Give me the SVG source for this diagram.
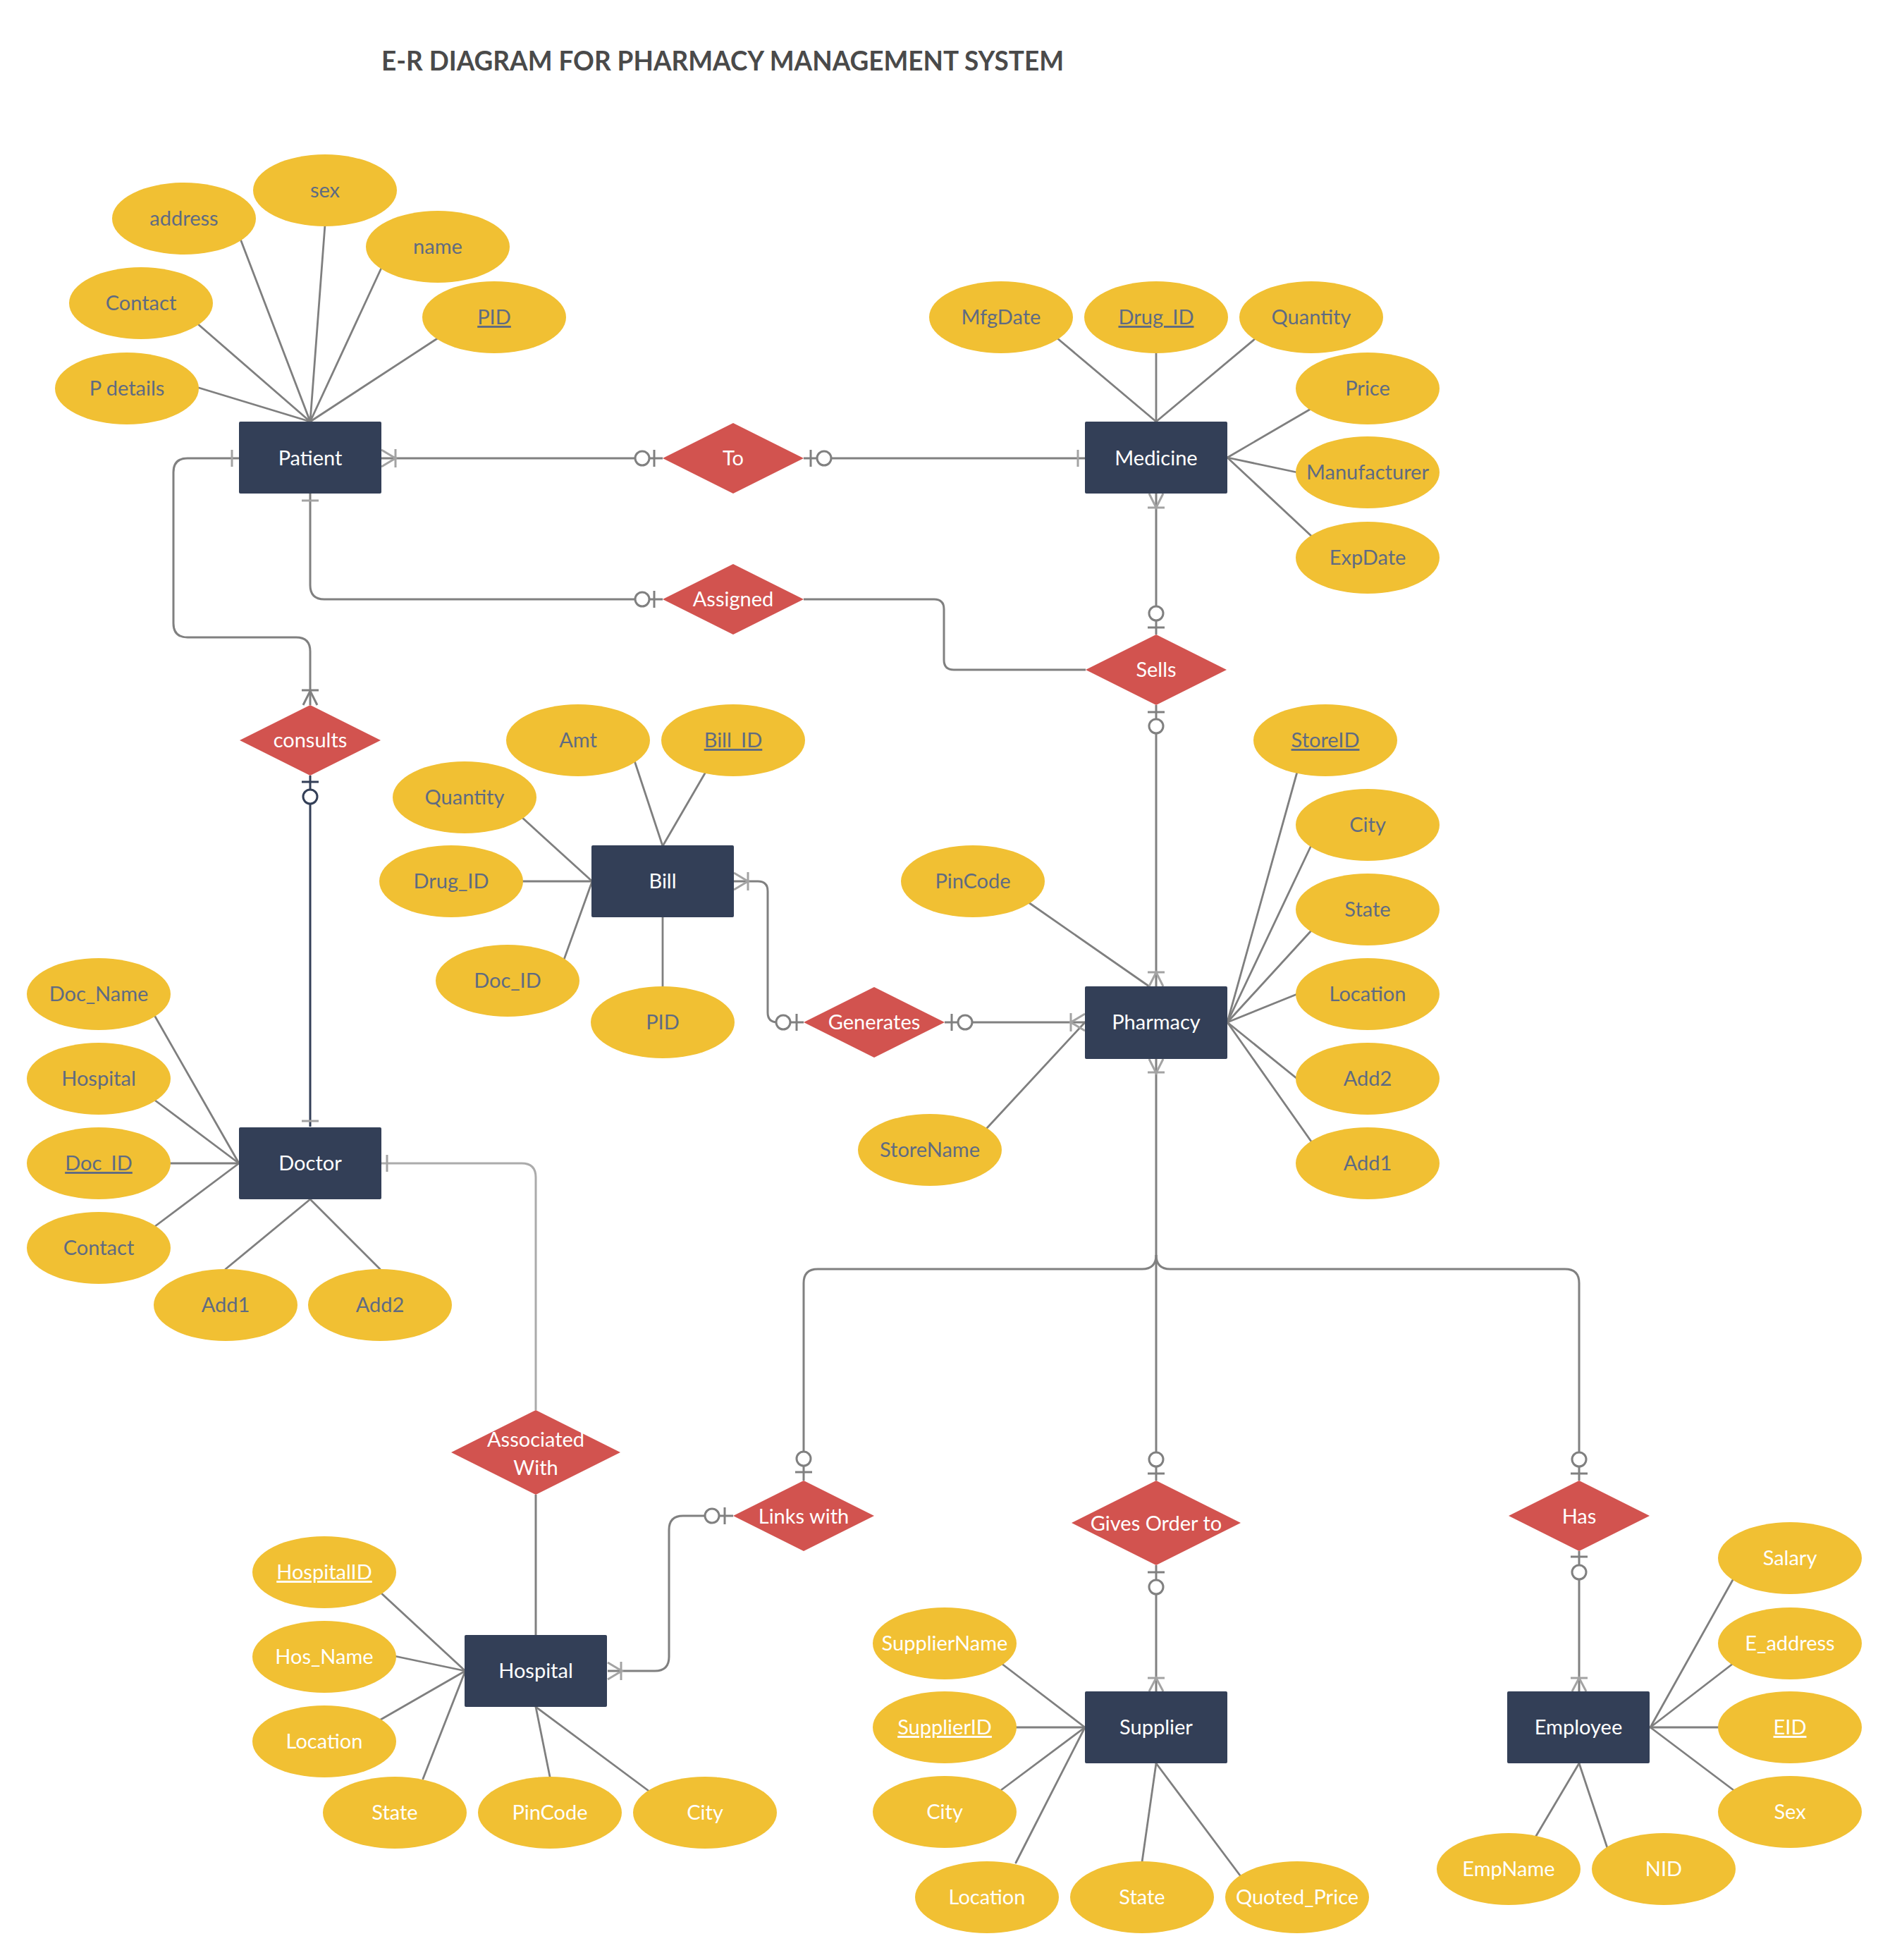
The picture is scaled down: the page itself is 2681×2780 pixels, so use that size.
<svg xmlns="http://www.w3.org/2000/svg" width="2681" height="2780" viewBox="0 0 2681 2780">
<style>
.ent{fill:#333F57}
.rel{fill:#D2534F}
.att{fill:#F1C033}
text{font-family:Lato,"Open Sans","Liberation Sans",sans-serif;font-size:29px;text-anchor:middle}
.ta{fill:#5F6B82}
.tw{fill:#FFFFFF}
.u{text-decoration:underline}
.al{stroke:#7F7F7F;stroke-width:2.8;fill:none;stroke-linecap:round}
.cl{stroke:#808080;stroke-width:3;fill:none}
.lg{stroke:#ABABAB;stroke-width:3;fill:none}
.nv{stroke:#333F57;stroke-width:3;fill:none}
.mk{stroke:#808080;stroke-width:3;fill:none}
.mkl{stroke:#A3A3A3;stroke-width:3;fill:none}
.ci{stroke:#808080;stroke-width:3;fill:#FFFFFF}
.cin{stroke:#333F57;stroke-width:3;fill:#FFFFFF}
.title{font-size:38px;font-weight:bold;fill:#4A4A4A;text-anchor:start}
</style>
<rect width="2681" height="2780" fill="#FFFFFF"/>
<text class="title" x="541" y="100" textLength="968" lengthAdjust="spacingAndGlyphs">E-R DIAGRAM FOR PHARMACY MANAGEMENT SYSTEM</text>

<g id="connectors">
<g id="attr-lines">
<line class="al" x1="282" y1="550" x2="440" y2="598"/>
<line class="al" x1="280" y1="459" x2="440" y2="598"/>
<line class="al" x1="341" y1="339" x2="440" y2="598"/>
<line class="al" x1="461" y1="319" x2="440" y2="598"/>
<line class="al" x1="541" y1="380" x2="440" y2="598"/>
<line class="al" x1="622" y1="479" x2="440" y2="598"/>

<line class="al" x1="1500" y1="480" x2="1640" y2="598"/>
<line class="al" x1="1640" y1="501" x2="1640" y2="598"/>
<line class="al" x1="1781" y1="480" x2="1640" y2="598"/>
<line class="al" x1="1861" y1="579" x2="1741" y2="649"/>
<line class="al" x1="1840" y1="670" x2="1741" y2="649"/>
<line class="al" x1="1861" y1="761" x2="1741" y2="649"/>

<line class="al" x1="900" y1="1079" x2="940" y2="1200"/>
<line class="al" x1="1001" y1="1095" x2="940" y2="1200"/>
<line class="al" x1="740" y1="1159" x2="840" y2="1250"/>
<line class="al" x1="741" y1="1250" x2="840" y2="1250"/>
<line class="al" x1="800" y1="1361" x2="840" y2="1250"/>
<line class="al" x1="940" y1="1400" x2="940" y2="1301"/>

<line class="al" x1="1840" y1="1095" x2="1741" y2="1450"/>
<line class="al" x1="1860" y1="1199" x2="1741" y2="1450"/>
<line class="al" x1="1860" y1="1320" x2="1741" y2="1450"/>
<line class="al" x1="1840" y1="1410" x2="1741" y2="1450"/>
<line class="al" x1="1840" y1="1530" x2="1741" y2="1450"/>
<line class="al" x1="1860" y1="1619" x2="1741" y2="1450"/>
<line class="al" x1="1459" y1="1280" x2="1630" y2="1399"/>
<line class="al" x1="1400" y1="1600" x2="1539" y2="1450"/>

<line class="al" x1="219" y1="1440" x2="339" y2="1650"/>
<line class="al" x1="219" y1="1560" x2="339" y2="1650"/>
<line class="al" x1="240" y1="1650" x2="339" y2="1650"/>
<line class="al" x1="219" y1="1740" x2="339" y2="1650"/>
<line class="al" x1="320" y1="1800" x2="440" y2="1701"/>
<line class="al" x1="539" y1="1800" x2="440" y2="1701"/>

<line class="al" x1="540" y1="2259" x2="660" y2="2370"/>
<line class="al" x1="560" y1="2349" x2="660" y2="2370"/>
<line class="al" x1="540" y1="2439" x2="660" y2="2370"/>
<line class="al" x1="600" y1="2523" x2="660" y2="2370"/>
<line class="al" x1="780" y1="2520" x2="760" y2="2421"/>
<line class="al" x1="920" y1="2540" x2="760" y2="2421"/>

<line class="al" x1="1420" y1="2359" x2="1539" y2="2450"/>
<line class="al" x1="1440" y1="2450" x2="1539" y2="2450"/>
<line class="al" x1="1420" y1="2539" x2="1539" y2="2450"/>
<line class="al" x1="1441" y1="2642" x2="1539" y2="2450"/>
<line class="al" x1="1620" y1="2641" x2="1640" y2="2501"/>
<line class="al" x1="1759" y1="2660" x2="1640" y2="2501"/>

<line class="al" x1="2459" y1="2239" x2="2341" y2="2450"/>
<line class="al" x1="2459" y1="2359" x2="2341" y2="2450"/>
<line class="al" x1="2440" y1="2450" x2="2341" y2="2450"/>
<line class="al" x1="2459" y1="2539" x2="2341" y2="2450"/>
<line class="al" x1="2179" y1="2604" x2="2240" y2="2501"/>
<line class="al" x1="2280" y1="2621" x2="2240" y2="2501"/>
</g>

<g id="rel-lines">
<path class="cl" d="M541,650 H940"/>
<path class="cl" d="M1140,650 H1539"/>
<path class="cl" d="M440,700 V830 Q440,850 460,850 H940"/>
<path class="cl" d="M1140,850 H1325 Q1339,850 1339,864 V936 Q1339,950 1353,950 H1540"/>
<path class="cl" d="M1640,700 V900"/>
<path class="cl" d="M1640,1000 V1399"/>
<path class="cl" d="M339,650 H266 Q246,650 246,670 V884 Q246,904 266,904 H420 Q440,904 440,924 V1000"/>
<path class="nv" d="M440,1100 V1598"/>
<path class="cl" d="M1041,1250 H1075 Q1089,1250 1089,1264 V1436 Q1089,1450 1103,1450 H1140"/>
<path class="cl" d="M1340,1450 H1539"/>
<path class="cl" d="M1640,1502 V2100"/>
<path class="cl" d="M1640,1780 Q1640,1800 1620,1800 H1160 Q1140,1800 1140,1820 V2100"/>
<path class="cl" d="M1640,1780 Q1640,1800 1660,1800 H2220 Q2240,1800 2240,1820 V2100"/>
<path class="cl" d="M1040,2150 H969 Q949,2150 949,2170 V2350 Q949,2370 929,2370 H862"/>
<path class="lg" d="M541,1650 H740 Q760,1650 760,1670 V2000"/>
<path class="cl" d="M760,2120 V2319"/>
<path class="cl" d="M1640,2220 V2399"/>
<path class="cl" d="M2240,2200 V2399"/>
</g>

<g id="markers">
<path class="mkl" d="M541,638 L561,650 L541,662 M561,637 V663"/>
<circle class="ci" cx="911" cy="650" r="10"/>
<path class="mk" d="M928,638 V662"/>
<path class="mk" d="M1150,638 V662"/>
<circle class="ci" cx="1169" cy="650" r="10"/>
<path class="mkl" d="M1529,638 V662"/>
<path class="mkl" d="M428,710 H452"/>
<circle class="ci" cx="911" cy="850" r="10"/>
<path class="mk" d="M928,838 V862"/>
<path class="mkl" d="M1630,700 L1640,720 L1650,700 M1628,720 H1652"/>
<circle class="ci" cx="1640" cy="870" r="10"/>
<path class="mk" d="M1628,890 H1652"/>
<path class="mk" d="M1628,1010 H1652"/>
<circle class="ci" cx="1640" cy="1030" r="10"/>
<path class="mkl" d="M1630,1399 L1640,1379 L1650,1399 M1628,1379 H1652"/>
<path class="mkl" d="M329,638 V662"/>
<path class="mk" d="M430,1000 L440,980 L450,1000 M428,979 H452"/>
<path class="nv" d="M428,1109 H452"/>
<circle class="cin" cx="440" cy="1130" r="10"/>
<path class="mkl" d="M428,1590 H452"/>
<path class="mkl" d="M1041,1238 L1061,1250 L1041,1262 M1061,1237 V1263"/>
<circle class="ci" cx="1111" cy="1450" r="10"/>
<path class="mk" d="M1130,1438 V1462"/>
<path class="mk" d="M1350,1438 V1462"/>
<circle class="ci" cx="1369" cy="1450" r="10"/>
<path class="mkl" d="M1539,1438 L1519,1450 L1539,1462 M1519,1437 V1463"/>
<path class="mkl" d="M1630,1502 L1640,1522 L1650,1502 M1628,1521 H1652"/>
<circle class="ci" cx="1140" cy="2069" r="10"/>
<path class="mk" d="M1128,2088 H1152"/>
<circle class="ci" cx="1640" cy="2070" r="10"/>
<path class="mk" d="M1628,2090 H1652"/>
<circle class="ci" cx="2240" cy="2070" r="10"/>
<path class="mk" d="M2228,2090 H2252"/>
<circle class="ci" cx="1010" cy="2150" r="10"/>
<path class="mk" d="M1028,2138 V2162"/>
<path class="mkl" d="M862,2358 L882,2370 L862,2382 M881,2357 V2383"/>
<path class="mkl" d="M549,1638 V1662"/>
<path class="mk" d="M1628,2230 H1652"/>
<circle class="ci" cx="1640" cy="2251" r="10"/>
<path class="mkl" d="M1630,2399 L1640,2380 L1650,2399 M1628,2380 H1652"/>
<path class="mk" d="M2228,2208 H2252"/>
<circle class="ci" cx="2240" cy="2230" r="10"/>
<path class="mkl" d="M2230,2399 L2240,2380 L2250,2399 M2228,2380 H2252"/>
</g>
</g>

<g id="patient"><rect class="ent" x="339" y="598" width="202" height="102" rx="2"/><text class="tw" x="440" y="660">Patient</text></g>
<g id="medicine"><rect class="ent" x="1539" y="598" width="202" height="102" rx="2"/><text class="tw" x="1640" y="660">Medicine</text></g>
<g id="bill"><rect class="ent" x="839" y="1199" width="202" height="102" rx="2"/><text class="tw" x="940" y="1260">Bill</text></g>
<g id="pharmacy"><rect class="ent" x="1539" y="1399" width="202" height="103" rx="2"/><text class="tw" x="1640" y="1460">Pharmacy</text></g>
<g id="doctor"><rect class="ent" x="339" y="1599" width="202" height="102" rx="2"/><text class="tw" x="440" y="1660">Doctor</text></g>
<g id="hospital"><rect class="ent" x="659" y="2319" width="202" height="102" rx="2"/><text class="tw" x="760" y="2380">Hospital</text></g>
<g id="supplier"><rect class="ent" x="1539" y="2399" width="202" height="102" rx="2"/><text class="tw" x="1640" y="2460">Supplier</text></g>
<g id="employee"><rect class="ent" x="2138" y="2399" width="202" height="102" rx="2"/><text class="tw" x="2239" y="2460">Employee</text></g>

<g id="rel-to"><polygon class="rel" points="940,650 1040,600 1140,650 1040,700"/><text class="tw" x="1040" y="660">To</text></g>
<g id="rel-assigned"><polygon class="rel" points="940,850 1040,800 1140,850 1040,900"/><text class="tw" x="1040" y="860">Assigned</text></g>
<g id="rel-sells"><polygon class="rel" points="1540,950 1640,900 1740,950 1640,1000"/><text class="tw" x="1640" y="960">Sells</text></g>
<g id="rel-consults"><polygon class="rel" points="340,1050 440,1000 540,1050 440,1100"/><text class="tw" x="440" y="1060">consults</text></g>
<g id="rel-generates"><polygon class="rel" points="1140,1450 1240,1400 1340,1450 1240,1500"/><text class="tw" x="1240" y="1460">Generates</text></g>
<g id="rel-associated"><polygon class="rel" points="640,2060 760,2000 880,2060 760,2120"/><text class="tw" x="760" y="2052">Associated</text><text class="tw" x="760" y="2092">With</text></g>
<g id="rel-links"><polygon class="rel" points="1040,2150 1140,2100 1240,2150 1140,2200"/><text class="tw" x="1140" y="2161">Links with</text></g>
<g id="rel-gives"><polygon class="rel" points="1520,2160 1640,2100 1760,2160 1640,2220"/><text class="tw" x="1640" y="2171">Gives Order to</text></g>
<g id="rel-has"><polygon class="rel" points="2140,2150 2240,2100 2340,2150 2240,2200"/><text class="tw" x="2240" y="2161">Has</text></g>

<g id="a-p-address"><ellipse class="att" cx="261" cy="310" rx="102" ry="51"/><text class="ta" x="261" y="320">address</text></g>
<g id="a-p-sex"><ellipse class="att" cx="461" cy="270" rx="102" ry="51"/><text class="ta" x="461" y="280">sex</text></g>
<g id="a-p-name"><ellipse class="att" cx="621" cy="350" rx="102" ry="51"/><text class="ta" x="621" y="360">name</text></g>
<g id="a-p-contact"><ellipse class="att" cx="200" cy="430" rx="102" ry="51"/><text class="ta" x="200" y="440">Contact</text></g>
<g id="a-p-pid"><ellipse class="att" cx="701" cy="450" rx="102" ry="51"/><text class="ta u" x="701" y="460">PID</text></g>
<g id="a-p-details"><ellipse class="att" cx="180" cy="551" rx="102" ry="51"/><text class="ta" x="180" y="561">P details</text></g>

<g id="a-m-mfg"><ellipse class="att" cx="1420" cy="450" rx="102" ry="51"/><text class="ta" x="1420" y="460">MfgDate</text></g>
<g id="a-m-drugid"><ellipse class="att" cx="1640" cy="450" rx="102" ry="51"/><text class="ta u" x="1640" y="460">Drug_ID</text></g>
<g id="a-m-qty"><ellipse class="att" cx="1860" cy="450" rx="102" ry="51"/><text class="ta" x="1860" y="460">Quantity</text></g>
<g id="a-m-price"><ellipse class="att" cx="1940" cy="551" rx="102" ry="51"/><text class="ta" x="1940" y="561">Price</text></g>
<g id="a-m-manu"><ellipse class="att" cx="1940" cy="670" rx="102" ry="51"/><text class="ta" x="1940" y="680">Manufacturer</text></g>
<g id="a-m-exp"><ellipse class="att" cx="1940" cy="791" rx="102" ry="51"/><text class="ta" x="1940" y="801">ExpDate</text></g>

<g id="a-b-amt"><ellipse class="att" cx="820" cy="1050" rx="102" ry="51"/><text class="ta" x="820" y="1060">Amt</text></g>
<g id="a-b-billid"><ellipse class="att" cx="1040" cy="1050" rx="102" ry="51"/><text class="ta u" x="1040" y="1060">Bill_ID</text></g>
<g id="a-b-qty"><ellipse class="att" cx="659" cy="1131" rx="102" ry="51"/><text class="ta" x="659" y="1141">Quantity</text></g>
<g id="a-b-drugid"><ellipse class="att" cx="640" cy="1250" rx="102" ry="51"/><text class="ta" x="640" y="1260">Drug_ID</text></g>
<g id="a-b-docid"><ellipse class="att" cx="720" cy="1391" rx="102" ry="51"/><text class="ta" x="720" y="1401">Doc_ID</text></g>
<g id="a-b-pid"><ellipse class="att" cx="940" cy="1450" rx="102" ry="51"/><text class="ta" x="940" y="1460">PID</text></g>

<g id="a-ph-storeid"><ellipse class="att" cx="1880" cy="1050" rx="102" ry="51"/><text class="ta u" x="1880" y="1060">StoreID</text></g>
<g id="a-ph-city"><ellipse class="att" cx="1940" cy="1170" rx="102" ry="51"/><text class="ta" x="1940" y="1180">City</text></g>
<g id="a-ph-state"><ellipse class="att" cx="1940" cy="1290" rx="102" ry="51"/><text class="ta" x="1940" y="1300">State</text></g>
<g id="a-ph-location"><ellipse class="att" cx="1940" cy="1410" rx="102" ry="51"/><text class="ta" x="1940" y="1420">Location</text></g>
<g id="a-ph-add2"><ellipse class="att" cx="1940" cy="1530" rx="102" ry="51"/><text class="ta" x="1940" y="1540">Add2</text></g>
<g id="a-ph-add1"><ellipse class="att" cx="1940" cy="1650" rx="102" ry="51"/><text class="ta" x="1940" y="1660">Add1</text></g>
<g id="a-ph-pincode"><ellipse class="att" cx="1380" cy="1250" rx="102" ry="51"/><text class="ta" x="1380" y="1260">PinCode</text></g>
<g id="a-ph-storename"><ellipse class="att" cx="1319" cy="1631" rx="102" ry="51"/><text class="ta" x="1319" y="1641">StoreName</text></g>

<g id="a-d-name"><ellipse class="att" cx="140" cy="1410" rx="102" ry="51"/><text class="ta" x="140" y="1420">Doc_Name</text></g>
<g id="a-d-hospital"><ellipse class="att" cx="140" cy="1530" rx="102" ry="51"/><text class="ta" x="140" y="1540">Hospital</text></g>
<g id="a-d-docid"><ellipse class="att" cx="140" cy="1650" rx="102" ry="51"/><text class="ta u" x="140" y="1660">Doc_ID</text></g>
<g id="a-d-contact"><ellipse class="att" cx="140" cy="1770" rx="102" ry="51"/><text class="ta" x="140" y="1780">Contact</text></g>
<g id="a-d-add1"><ellipse class="att" cx="320" cy="1851" rx="102" ry="51"/><text class="ta" x="320" y="1861">Add1</text></g>
<g id="a-d-add2"><ellipse class="att" cx="539" cy="1851" rx="102" ry="51"/><text class="ta" x="539" y="1861">Add2</text></g>

<g id="a-h-id"><ellipse class="att" cx="460" cy="2230" rx="102" ry="51"/><text class="tw u" x="460" y="2240">HospitalID</text></g>
<g id="a-h-name"><ellipse class="att" cx="460" cy="2350" rx="102" ry="51"/><text class="tw" x="460" y="2360">Hos_Name</text></g>
<g id="a-h-location"><ellipse class="att" cx="460" cy="2470" rx="102" ry="51"/><text class="tw" x="460" y="2480">Location</text></g>
<g id="a-h-state"><ellipse class="att" cx="560" cy="2571" rx="102" ry="51"/><text class="tw" x="560" y="2581">State</text></g>
<g id="a-h-pincode"><ellipse class="att" cx="780" cy="2571" rx="102" ry="51"/><text class="tw" x="780" y="2581">PinCode</text></g>
<g id="a-h-city"><ellipse class="att" cx="1000" cy="2571" rx="102" ry="51"/><text class="tw" x="1000" y="2581">City</text></g>

<g id="a-s-name"><ellipse class="att" cx="1340" cy="2331" rx="102" ry="51"/><text class="tw" x="1340" y="2341">SupplierName</text></g>
<g id="a-s-id"><ellipse class="att" cx="1340" cy="2450" rx="102" ry="51"/><text class="tw u" x="1340" y="2460">SupplierID</text></g>
<g id="a-s-city"><ellipse class="att" cx="1340" cy="2570" rx="102" ry="51"/><text class="tw" x="1340" y="2580">City</text></g>
<g id="a-s-location"><ellipse class="att" cx="1400" cy="2691" rx="102" ry="51"/><text class="tw" x="1400" y="2701">Location</text></g>
<g id="a-s-state"><ellipse class="att" cx="1620" cy="2691" rx="102" ry="51"/><text class="tw" x="1620" y="2701">State</text></g>
<g id="a-s-price"><ellipse class="att" cx="1840" cy="2691" rx="102" ry="51"/><text class="tw" x="1840" y="2701">Quoted_Price</text></g>

<g id="a-e-salary"><ellipse class="att" cx="2539" cy="2210" rx="102" ry="51"/><text class="tw" x="2539" y="2220">Salary</text></g>
<g id="a-e-address"><ellipse class="att" cx="2539" cy="2331" rx="102" ry="51"/><text class="tw" x="2539" y="2341">E_address</text></g>
<g id="a-e-eid"><ellipse class="att" cx="2539" cy="2450" rx="102" ry="51"/><text class="tw u" x="2539" y="2460">EID</text></g>
<g id="a-e-sex"><ellipse class="att" cx="2539" cy="2570" rx="102" ry="51"/><text class="tw" x="2539" y="2580">Sex</text></g>
<g id="a-e-name"><ellipse class="att" cx="2140" cy="2651" rx="102" ry="51"/><text class="tw" x="2140" y="2661">EmpName</text></g>
<g id="a-e-nid"><ellipse class="att" cx="2360" cy="2651" rx="102" ry="51"/><text class="tw" x="2360" y="2661">NID</text></g>
</svg>
